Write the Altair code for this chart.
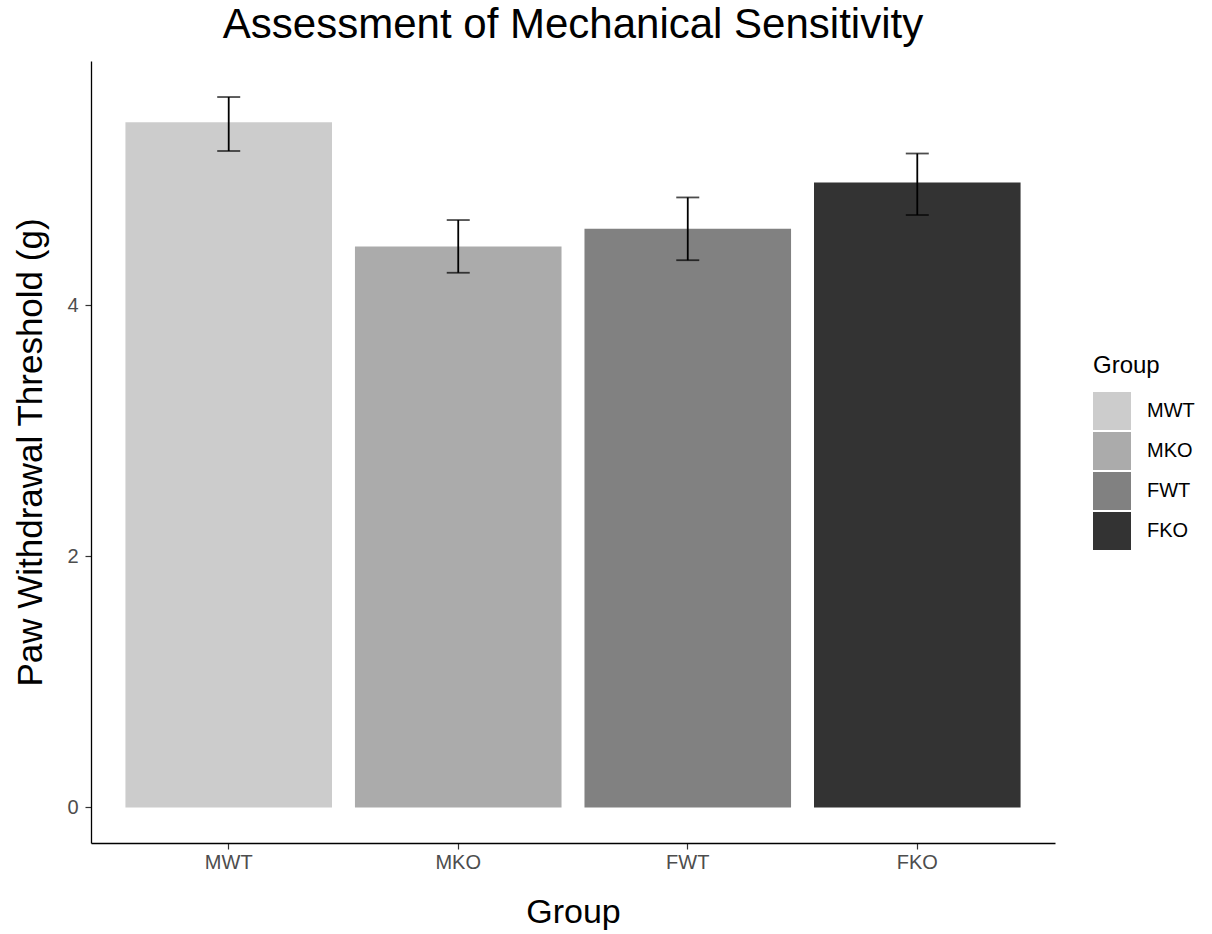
import altair as alt
import pandas as pd

groups = ["MWT", "MKO", "FWT", "FKO"]
means = [5.46, 4.47, 4.61, 4.98]
err_hi = [5.66, 4.68, 4.86, 5.21]
err_lo = [5.23, 4.26, 4.36, 4.72]
greys = ["#CCCCCC", "#ABABAB", "#818181", "#333333"]

df = pd.DataFrame({"Group": groups, "mean": means, "hi": err_hi, "lo": err_lo})

FONT = "Liberation Sans"
W, H = 964, 782

xenc = alt.X("Group:N", sort=groups,
             scale=alt.Scale(paddingInner=0.1, paddingOuter=0.15),
             axis=alt.Axis(title="Group", labelAngle=0, titleX=W / 2, titleY=79,
                           titleBaseline="alphabetic", labelPadding=3))
yscale = alt.Scale(domain=[-0.283, 5.947], nice=False, zero=False)

bars = alt.Chart(df).mark_bar().encode(
    x=xenc,
    y=alt.Y("mean:Q", scale=yscale,
            axis=alt.Axis(title="Paw Withdrawal Threshold (g)", values=[0, 2, 4], format="d",
                          titleX=-50, titleY=H / 2, titleBaseline="alphabetic",
                          titleAngle=270, labelPadding=7, titleFontSize=35)),
    y2=alt.datum(0),
    color=alt.Color("Group:N", sort=groups,
                    scale=alt.Scale(domain=groups, range=greys),
                    legend=alt.Legend(title="Group", orient="none", legendX=1002, legendY=293,
                                      symbolType="square", symbolSize=1444,
                                      symbolStrokeWidth=0, symbolOpacity=1,
                                      rowPadding=2, titlePadding=14, labelOffset=16,
                                      titleFontSize=24, labelFontSize=20,
                                      titleFont=FONT, labelFont=FONT,
                                      titleColor="black", labelColor="black",
                                      titleFontWeight="normal")),
)

rules = alt.Chart(df).mark_rule(color="black", strokeWidth=1.8).encode(
    x=alt.X("Group:N", sort=groups),
    y=alt.Y("hi:Q", scale=yscale),
    y2="lo:Q",
)
cap_hi = alt.Chart(df).mark_tick(color="black", size=23, thickness=1.8).encode(
    x=alt.X("Group:N", sort=groups),
    y=alt.Y("hi:Q", scale=yscale),
)
cap_lo = alt.Chart(df).mark_tick(color="black", size=23, thickness=1.8).encode(
    x=alt.X("Group:N", sort=groups),
    y=alt.Y("lo:Q", scale=yscale),
)

chart = alt.layer(bars, rules, cap_hi, cap_lo).properties(
    width=W, height=H,
    title=alt.TitleParams("Assessment of Mechanical Sensitivity", anchor="middle",
                          fontSize=42, font=FONT, fontWeight="normal", color="black",
                          baseline="alphabetic", offset=22, dy=41),
    autosize=alt.AutoSizeParams(type="none"),
    padding={"left": 91, "top": 61, "right": 157, "bottom": 91},
).configure(background="white").configure_view(stroke=None).configure_axis(
    grid=False, domainColor="black", domainWidth=1.3,
    tickColor="#333333", tickWidth=1.2, tickSize=6,
    labelFont=FONT, labelFontSize=20, labelColor="#4D4D4D",
    titleFont=FONT, titleFontSize=34, titleColor="black", titleFontWeight="normal",
)

chart.save("out.html", embed_options={"renderer": "svg", "actions": False})
